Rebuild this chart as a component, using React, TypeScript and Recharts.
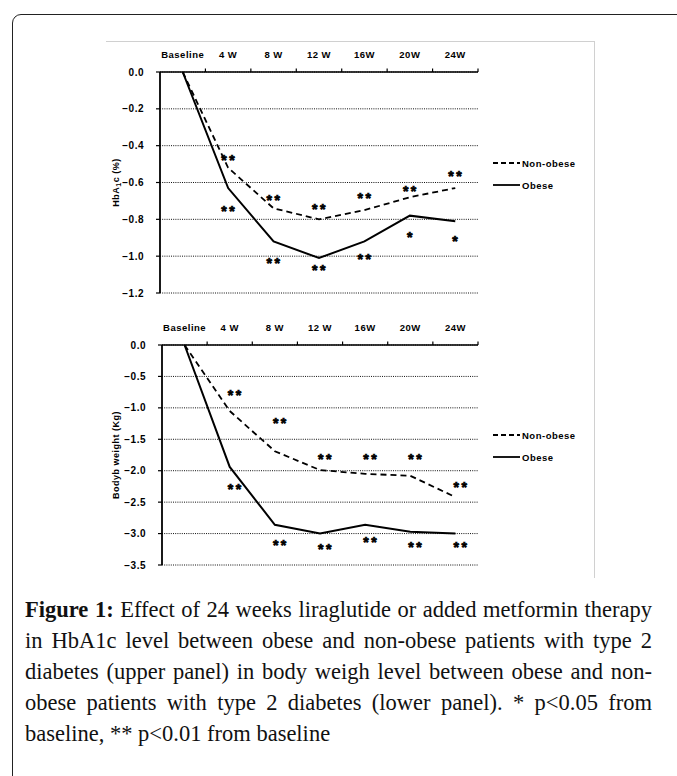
import { CartesianGrid, Line, LineChart, XAxis, YAxis } from "recharts"

const weeks = ["Baseline", "4 W", "8 W", "12 W", "16W", "20W", "24W"]

// upper panel: HbA1c change (%)
const hbaNonObese = [0, -0.52, -0.74, -0.8, -0.75, -0.68, -0.63]
const hbaObese = [0, -0.63, -0.92, -1.01, -0.92, -0.78, -0.81]
const hbaSigHiAt = [null, -0.46, -0.68, -0.73, -0.67, -0.63, -0.55]
const hbaSigLoAt = [null, -0.74, -1.02, -1.06, -1.0, -0.88, -0.9]
const hbaSigHi = ["", "**", "**", "**", "**", "**", "**"]
const hbaSigLo = ["", "**", "**", "**", "**", "*", "*"]
const hbaTicks = [0, -0.2, -0.4, -0.6, -0.8, -1.0, -1.2]

// lower panel: body weight change (kg)
const bwNonObese = [0, -1.05, -1.69, -1.99, -2.05, -2.08, -2.42]
const bwObese = [0, -1.94, -2.86, -3.0, -2.86, -2.97, -3.0]
const bwSigHiAt = [null, -0.75, -1.2, -1.77, -1.76, -1.77, -2.21]
const bwSigLoAt = [null, -2.25, -3.13, -3.19, -3.09, -3.17, -3.17]
const bwSigHi = ["", "**", "**", "**", "**", "**", "**"]
const bwSigLo = ["", "**", "**", "**", "**", "**", "**"]
const bwTicks = [0, -0.5, -1.0, -1.5, -2.0, -2.5, -3.0, -3.5]

const captionLines = [
  "in HbA1c level between obese and non-obese patients with type 2",
  "diabetes (upper panel) in body weigh level between obese and non-",
  "obese patients with type 2 diabetes (lower panel). * p<0.05 from",
]

const SANS = "'Liberation Sans', Arial, sans-serif"
const SERIF = "'Liberation Serif', 'Times New Roman', serif"

const fmt = (v: number) => (v === 0 ? "0.0" : "\u2212" + Math.abs(v).toFixed(1))

const TopTick = (props: any) => {
  const { x, y, payload, band } = props
  return (
    <g>
      <text x={x} y={y} textAnchor="middle" fontFamily={SANS} fontSize={9.5} fontWeight={700} letterSpacing={0.5} fill="#000">
        {payload.value}
      </text>
      <line x1={x + band / 2} x2={x + band / 2} y1={y + 14} y2={y + 10.5} stroke="#000" strokeWidth={1.2} />
    </g>
  )
}

const sigDot = (marks: string[], dx: number) => (props: any) => {
  const { cx, cy, index } = props
  if (cy == null || !marks[index]) return <g key={`e${index}`} />
  return (
    <text
      key={`s${index}`}
      x={cx + dx}
      y={cy + 8}
      textAnchor="middle"
      fontFamily={SANS}
      fontSize={14}
      fontWeight={700}
      letterSpacing={2.5}
      fill="#000"
      stroke="#000"
      strokeWidth={0.7}
    >
      {marks[index]}
    </text>
  )
}

const YTitle = (props: any) => {
  const { viewBox, children, dx } = props
  const x = viewBox.x + dx
  const y = viewBox.y + viewBox.height / 2
  return (
    <text x={x} y={y} transform={`rotate(-90 ${x} ${y})`} textAnchor="middle" fontFamily={SANS} fontSize={9} fontWeight={700} letterSpacing={0.5} fill="#000">
      {children}
    </text>
  )
}

interface PanelProps {
  nonObese: number[]
  obese: number[]
  hiAt: (number | null)[]
  loAt: (number | null)[]
  hi: string[]
  lo: string[]
  ticks: number[]
  title: React.ReactNode
  top: number
  height: number
  axisTop: number
  axisLeft: number
  sigDx: number
}

function Panel(p: PanelProps) {
  const width = 490
  const right = 118
  const band = (width - p.axisLeft - right) / weeks.length
  const data = weeks.map((w, i) => ({
    week: w,
    nonObese: p.nonObese[i],
    obese: p.obese[i],
    hiAt: p.hiAt[i],
    loAt: p.loAt[i],
  }))
  const min = p.ticks[p.ticks.length - 1]
  return (
    <div style={{ position: "absolute", left: 106, top: p.top }}>
      <LineChart width={width} height={p.height} data={data} margin={{ top: 0, right, bottom: 10, left: 0 }}>
        <CartesianGrid vertical={false} stroke="#111" strokeDasharray="1 1.2" strokeWidth={1} />
        <XAxis
          dataKey="week"
          orientation="top"
          scale="band"
          interval={0}
          height={p.axisTop}
          axisLine={{ stroke: "#000", strokeWidth: 1.6 }}
          tickLine={false}
          tickSize={3}
          tickMargin={11}
          tick={<TopTick band={band} />}
        />
        <YAxis
          width={p.axisLeft}
          domain={[min, 0]}
          ticks={p.ticks}
          tickFormatter={fmt}
          axisLine={{ stroke: "#000", strokeWidth: 1.8 }}
          tickLine={{ stroke: "#000", strokeWidth: 1.2 }}
          tickSize={4}
          tickMargin={12}
          tick={{ fontFamily: SANS, fontSize: 10, fontWeight: 700, fill: "#000", letterSpacing: 0.5 }}
          label={<YTitle dx={13}>{p.title}</YTitle>}
        />
        <Line dataKey="nonObese" stroke="#000" strokeWidth={1.8} strokeDasharray="6 4" dot={false} activeDot={false} isAnimationActive={false} />
        <Line dataKey="obese" stroke="#000" strokeWidth={2} dot={false} activeDot={false} isAnimationActive={false} />
        <Line dataKey="hiAt" stroke="none" dot={sigDot(p.hi, p.sigDx)} activeDot={false} isAnimationActive={false} />
        <Line dataKey="loAt" stroke="none" dot={sigDot(p.lo, p.sigDx)} activeDot={false} isAnimationActive={false} />
      </LineChart>
    </div>
  )
}

function LegendBox({ top }: { top: number }) {
  const row = (label: string, dash: string | undefined, y: number) => (
    <div style={{ position: "absolute", left: 493, top: y - 7, height: 14, display: "flex", alignItems: "center" }}>
      <svg width={28} height={14}>
        <line x1={0} x2={27} y1={7} y2={7} stroke="#000" strokeWidth={1.8} strokeDasharray={dash} />
      </svg>
      <span style={{ fontFamily: SANS, fontSize: 9.5, fontWeight: 700, letterSpacing: 0.5, marginLeft: 1 }}>{label}</span>
    </div>
  )
  return (
    <>
      {row("Non-obese", "5 3", top)}
      {row("Obese", undefined, top + 22)}
    </>
  )
}

export default function App() {
  return (
    <div style={{ position: "fixed", left: 0, top: 0, width: 677, height: 776, overflow: "hidden", background: "#fff" }}>
      <div style={{ position: "absolute", left: 12, top: 14, width: 720, height: 820, border: "1.6px solid #222", borderRadius: 9 }} />
      <div style={{ position: "absolute", left: 106, top: 41, width: 488, height: 536, borderTop: "1px solid #d0d0d0", borderRight: "1px solid #d0d0d0" }} />

      <Panel
        nonObese={hbaNonObese}
        obese={hbaObese}
        hiAt={hbaSigHiAt}
        loAt={hbaSigLoAt}
        hi={hbaSigHi}
        lo={hbaSigLo}
        ticks={hbaTicks}
        title={<>HbA<tspan dy={2} fontSize={7}>1</tspan><tspan dy={-2}>c (%)</tspan></>}
        top={41}
        height={262}
        axisTop={31}
        axisLeft={54}
        sigDx={1}
      />
      <LegendBox top={163} />

      <Panel
        nonObese={bwNonObese}
        obese={bwObese}
        hiAt={bwSigHiAt}
        loAt={bwSigLoAt}
        hi={bwSigHi}
        lo={bwSigLo}
        ticks={bwTicks}
        title="Bodyb weight (Kg)"
        top={315}
        height={260}
        axisTop={30}
        axisLeft={56}
        sigDx={6}
      />
      <LegendBox top={435} />

      <div style={{ position: "absolute", left: 25, top: 594, width: 627, fontFamily: SERIF, fontSize: 22.5, lineHeight: "31px", color: "#111" }}>
        <div style={{ textAlign: "justify", textAlignLast: "justify", whiteSpace: "nowrap" }}>
          <b>Figure 1:</b> Effect of 24 weeks liraglutide or added metformin therapy
        </div>
        {captionLines.map((l) => (
          <div key={l} style={{ textAlign: "justify", textAlignLast: "justify", whiteSpace: "nowrap" }}>
            {l}
          </div>
        ))}
        <div>baseline, ** p&lt;0.01 from baseline</div>
      </div>
    </div>
  )
}
